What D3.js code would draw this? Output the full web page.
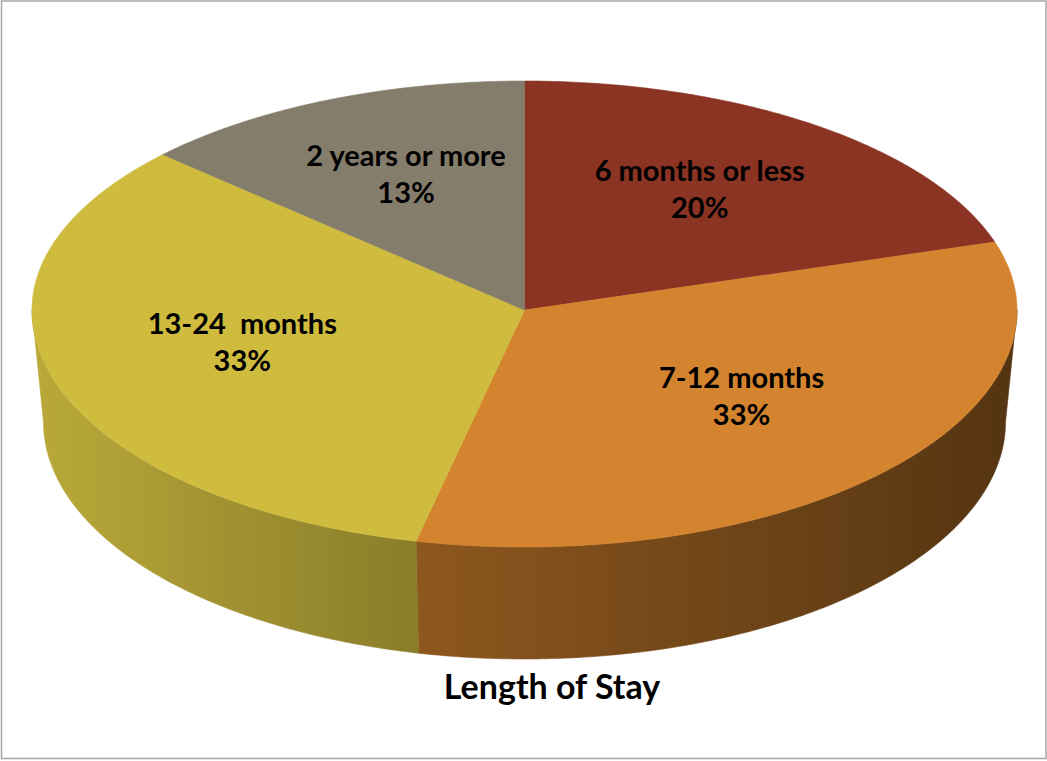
<!DOCTYPE html>
<html>
<head>
<meta charset="utf-8">
<script src="https://cdn.jsdelivr.net/npm/d3@7/dist/d3.min.js"></script>
<style>
  html, body { margin: 0; padding: 0; background: #fff; }
  svg { display: block; }
  text { font-family: Lato, "Open Sans", sans-serif; font-weight: bold; fill: #000; white-space: pre; }
</style>
</head>
<body>
<svg id="chart" width="1047" height="761"></svg>
<script>
// Length of stay shares, clockwise from 12 o'clock
const categories = ["6 months or less", "7-12 months", "13-24  months", "2 years or more"];
const values = [20, 33, 33, 13];
const percentLabels = ["20%", "33%", "33%", "13%"];
const colors = ["#8B3424", "#D4832E", "#CFBC3F", "#857D6B"];
const chartTitle = "Length of Stay";

const svg = d3.select("#chart");

// Tilted disc geometry: top face and (slightly smaller, farther) bottom face
const cx = 524.5;
const topFace = { cy: 310, rx: 492.5, ryFar: 229, ryNear: 237 };
const botFace = { cy: 422, rx: 481, ryFar: 229, ryNear: 237 };

function pt(e, a) {
  const c = Math.cos(a), s = Math.sin(a);
  const ry = c > 0 ? e.ryFar : e.ryNear;
  return [cx + e.rx * s, e.cy - ry * c];
}
function arcPts(e, a0, a1) {
  const n = Math.max(2, Math.ceil(Math.abs(a1 - a0) / 0.01));
  return d3.range(n + 1).map(i => pt(e, a0 + (a1 - a0) * i / n));
}

const pie = d3.pie().sort(null).value(d => d)(values);
const color = d3.scaleOrdinal().domain(categories).range(colors);

// Horizontal shading of the outer wall: lit on the left, dark on the right
const shade = d3.scaleLinear().domain([32, 406, 1017]).range([0.9, 0.67, 0.40]);
const defs = svg.append("defs");
pie.forEach((p, i) => {
  const base = d3.rgb(color(categories[i]));
  const g = defs.append("linearGradient")
    .attr("id", "wall" + i)
    .attr("gradientUnits", "userSpaceOnUse")
    .attr("x1", 32).attr("x2", 1017).attr("y1", 0).attr("y2", 0);
  d3.range(0, 11).forEach(k => {
    const x = 32 + (1017 - 32) * k / 10;
    const f = shade(x);
    g.append("stop")
      .attr("offset", k / 10)
      .attr("stop-color", d3.rgb(base.r * f, base.g * f, base.b * f).formatHex());
  });
});

const line = d3.line();

// Outer walls (only the front half, 90°..270°, faces the viewer)
const wallG = svg.append("g");
pie.forEach((p, i) => {
  const a0 = Math.max(p.startAngle, Math.PI / 2);
  const a1 = Math.min(p.endAngle, 3 * Math.PI / 2);
  if (a1 <= a0) return;
  const pts = arcPts(topFace, a0, a1).concat(arcPts(botFace, a1, a0));
  wallG.append("path")
    .attr("d", line(pts) + "Z")
    .attr("fill", `url(#wall${i})`)
    .attr("stroke", `url(#wall${i})`)
    .attr("stroke-width", 0.6);
});

// Top faces
const topG = svg.append("g");
pie.forEach((p, i) => {
  const pts = [[cx, topFace.cy]].concat(arcPts(topFace, p.startAngle, p.endAngle));
  topG.append("path")
    .attr("d", line(pts) + "Z")
    .attr("fill", color(categories[i]))
    .attr("stroke", color(categories[i]))
    .attr("stroke-width", 0.6);
});

// Data labels: category name over percentage
const labelR = 0.6;
const fs = 29;
const labelG = svg.append("g");
pie.forEach((p, i) => {
  const mid = (p.startAngle + p.endAngle) / 2;
  const e = { cy: topFace.cy, rx: topFace.rx * labelR, ryFar: topFace.ryFar * labelR, ryNear: topFace.ryNear * labelR };
  const [x, y] = pt(e, mid);
  const t = labelG.append("text")
    .attr("x", x).attr("y", y)
    .attr("text-anchor", "middle")
    .style("font-size", fs + "px");
  t.append("tspan").attr("x", x).attr("dy", "-0.64em").text(categories[i]);
  t.append("tspan").attr("x", x).attr("dy", "1.28em").text(percentLabels[i]);
});

// Chart title beneath the pie
svg.append("text")
  .attr("x", 552).attr("y", 699)
  .attr("text-anchor", "middle")
  .style("font-size", "34px")
  .text(chartTitle);

// Chart area border
svg.append("rect")
  .attr("x", 1.5).attr("y", 1)
  .attr("width", 1044.5).attr("height", 757.5)
  .attr("fill", "none")
  .attr("stroke", "#a6a6a6")
  .attr("stroke-width", 1.5);
</script>
</body>
</html>
